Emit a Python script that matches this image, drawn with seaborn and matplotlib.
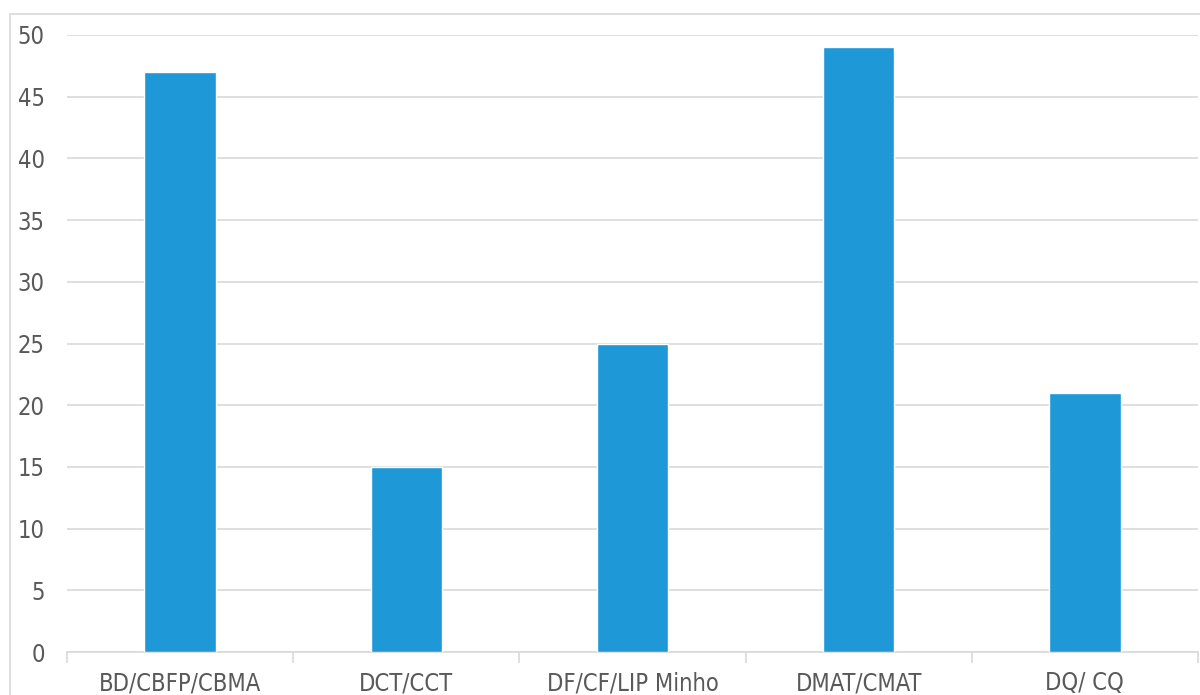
import matplotlib.pyplot as plt
import matplotlib.patches as mpatches
import seaborn as sns
import pandas as pd

# departments and counts
categories = ["BD/CBFP/CBMA", "DCT/CCT", "DF/CF/LIP Minho", "DMAT/CMAT", "DQ/ CQ"]
values = [47, 15, 25, 49, 21]

sns.set_style("white")
plt.rcParams['font.family'] = ['DejaVu Sans']
plt.rcParams['font.stretch'] = 'condensed'

df = pd.DataFrame({"cat": categories, "val": values})

fig = plt.figure(figsize=(12, 6.95), dpi=100)
ax = fig.add_axes([67/1200, 1 - 652/695, (1198 - 67)/1200, (652 - 35)/695])

sns.barplot(data=df, x="cat", y="val", color="#1E98D6", saturation=1, width=0.315, ax=ax, zorder=3)

ax.set_ylim(0, 50)
ax.set_xlim(-0.5, len(categories) - 0.5)
ax.set_yticks(range(0, 51, 5))
ax.yaxis.grid(True, color="#D9D9D9", linewidth=1.2, zorder=0)
ax.set_axisbelow(True)
ax.set_xlabel("")
ax.set_ylabel("")

for s in ["top", "right", "left"]:
    ax.spines[s].set_visible(False)
ax.spines["bottom"].set_color("#D9D9D9")
ax.spines["bottom"].set_linewidth(1.2)

ax.tick_params(axis="y", length=0, labelsize=17, labelcolor="#595959", pad=16)
ax.tick_params(axis="x", which="major", length=0, labelsize=17, labelcolor="#595959", pad=14)
ax.set_xticks([i - 0.5 for i in range(len(categories) + 1)], minor=True)
ax.tick_params(axis="x", which="minor", bottom=True, length=8, color="#D9D9D9", width=1.2)

# outer chart border
fig.patches.append(mpatches.Rectangle((10/1200, -0.1), 1.2, 1 - 14/695 + 0.1,
                                      transform=fig.transFigure, fill=False,
                                      edgecolor="#D9D9D9", linewidth=1.2))

fig.savefig("out.png", dpi=100)
